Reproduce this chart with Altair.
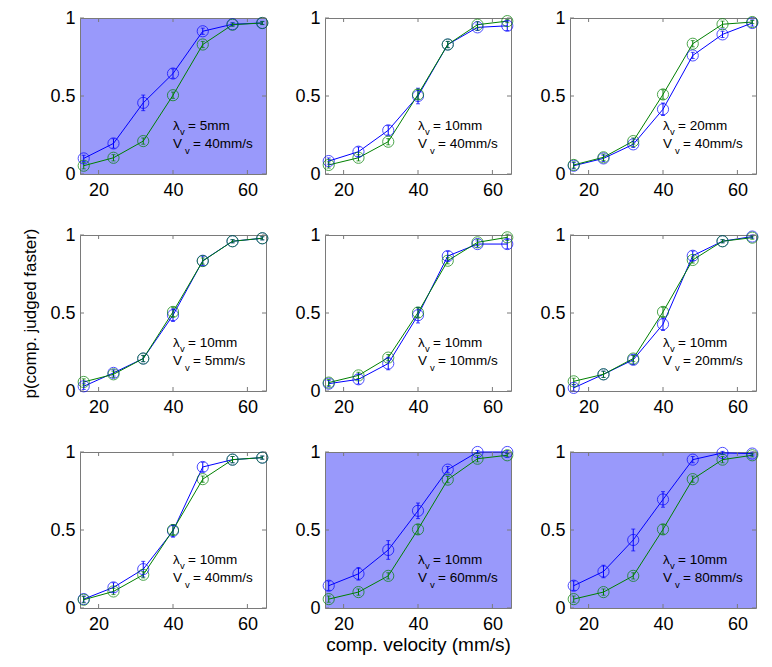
import altair as alt
import pandas as pd

velocities = [16, 24, 32, 40, 48, 56, 64]

blue_p = [
    [0.10, 0.196, 0.456, 0.644, 0.915, 0.960, 0.968],
    [0.083, 0.143, 0.280, 0.500, 0.830, 0.940, 0.950],
    [0.053, 0.100, 0.190, 0.415, 0.760, 0.895, 0.968],
    [0.030, 0.116, 0.208, 0.486, 0.835, 0.960, 0.979],
    [0.047, 0.075, 0.176, 0.486, 0.865, 0.942, 0.942],
    [0.020, 0.107, 0.200, 0.428, 0.867, 0.960, 0.990],
    [0.057, 0.132, 0.249, 0.494, 0.904, 0.951, 0.964],
    [0.143, 0.219, 0.372, 0.623, 0.887, 1.000, 1.000],
    [0.143, 0.234, 0.436, 0.696, 0.951, 0.994, 0.990],
]
blue_err = [
    [0.02, 0.03, 0.05, 0.03, 0.02, 0.01, 0.01],
    [0.02, 0.03, 0.03, 0.05, 0.02, 0.02, 0.03],
    [0.02, 0.02, 0.02, 0.04, 0.02, 0.02, 0.02],
    [0.02, 0.02, 0.02, 0.04, 0.03, 0.01, 0.01],
    [0.02, 0.03, 0.04, 0.05, 0.03, 0.02, 0.03],
    [0.02, 0.02, 0.03, 0.04, 0.03, 0.01, 0.01],
    [0.02, 0.03, 0.05, 0.04, 0.03, 0.02, 0.01],
    [0.03, 0.04, 0.06, 0.05, 0.02, 0.01, 0.01],
    [0.03, 0.04, 0.07, 0.05, 0.02, 0.01, 0.01],
]
green_p = [
    [0.053, 0.104, 0.211, 0.505, 0.830, 0.957, 0.968],
    [0.058, 0.104, 0.207, 0.510, 0.830, 0.957, 0.980],
    [0.058, 0.107, 0.211, 0.510, 0.835, 0.960, 0.974],
    [0.058, 0.107, 0.208, 0.507, 0.833, 0.960, 0.979],
    [0.054, 0.100, 0.214, 0.503, 0.835, 0.953, 0.985],
    [0.062, 0.107, 0.208, 0.507, 0.840, 0.960, 0.983],
    [0.053, 0.106, 0.213, 0.500, 0.826, 0.951, 0.964],
    [0.057, 0.102, 0.206, 0.504, 0.823, 0.957, 0.979],
    [0.057, 0.102, 0.206, 0.504, 0.826, 0.951, 0.979],
]
green_err = [
    [0.02, 0.02, 0.02, 0.02, 0.02, 0.01, 0.01],
    [0.02, 0.02, 0.02, 0.03, 0.02, 0.02, 0.01],
    [0.02, 0.02, 0.02, 0.03, 0.02, 0.02, 0.01],
    [0.02, 0.02, 0.02, 0.03, 0.02, 0.01, 0.01],
    [0.02, 0.02, 0.02, 0.03, 0.02, 0.02, 0.02],
    [0.02, 0.02, 0.02, 0.03, 0.02, 0.01, 0.01],
    [0.02, 0.02, 0.02, 0.03, 0.02, 0.02, 0.01],
    [0.02, 0.02, 0.02, 0.03, 0.02, 0.02, 0.01],
    [0.02, 0.02, 0.02, 0.03, 0.02, 0.02, 0.01],
]
lambda_labels = ["5mm", "10mm", "20mm", "10mm", "10mm", "10mm", "10mm", "10mm", "10mm"]
v_labels = ["40mm/s", "40mm/s", "40mm/s", "5mm/s", "10mm/s", "20mm/s", "40mm/s", "60mm/s", "80mm/s"]
highlighted = [True, False, False, False, False, False, False, True, True]

x_ticks = [20, 40, 60]
y_ticks = [0, 0.5, 1]

W, H = 186, 156
FONT = "Liberation Sans"
BLUE = "#0000FF"
GREEN = "#008000"
FRAME = "#7a7a7a"


def make_panel(i):
    rows = []
    for name, ps, es in (("blue", blue_p[i], blue_err[i]), ("green", green_p[i], green_err[i])):
        for v, p, e in zip(velocities, ps, es):
            rows.append({"velocity": v, "p": p, "lo": p - e, "hi": p + e, "series": name})
    df = pd.DataFrame(rows)

    xaxis = alt.Axis(values=x_ticks, ticks=False, domain=False, grid=False,
                     labelFontSize=18, labelPadding=7, labelFont=FONT, labelColor="black",
                     title="comp. velocity (mm/s)" if i == 7 else None,
                     titleFontSize=19, titleFontWeight="normal", titleFont=FONT,
                     titlePadding=2, titleColor="black")
    yaxis = alt.Axis(values=y_ticks, ticks=False, domain=False, grid=False, format=".1~f",
                     labelFontSize=18, labelPadding=5, labelFont=FONT, labelColor="black",
                     title="p(comp. judged faster)" if i == 3 else None,
                     titleFontSize=17, titleFontWeight="normal", titleFont=FONT,
                     titlePadding=10, titleColor="black")
    xs = alt.Scale(domain=[15, 65], nice=False, zero=False)
    ys = alt.Scale(domain=[0, 1], nice=False, zero=False)
    X = alt.X("velocity:Q", scale=xs, axis=xaxis)
    Y = alt.Y("p:Q", scale=ys, axis=yaxis)
    col = alt.Color("series:N", scale=alt.Scale(domain=["blue", "green"], range=[BLUE, GREEN]), legend=None)

    base = alt.Chart(df)
    lines = base.mark_line(strokeWidth=1).encode(x=X, y=Y, color=col, detail="series:N")
    bars = base.mark_rule(strokeWidth=1).encode(x=X, y=alt.Y("lo:Q", scale=ys, axis=yaxis), y2="hi:Q", color=col)
    cap_lo = base.mark_tick(orient="horizontal", size=4, thickness=1).encode(
        x=X, y=alt.Y("lo:Q", scale=ys, axis=yaxis), color=col)
    cap_hi = base.mark_tick(orient="horizontal", size=4, thickness=1).encode(
        x=X, y=alt.Y("hi:Q", scale=ys, axis=yaxis), color=col)
    pts = base.mark_point(shape="circle", filled=False, size=125, strokeWidth=1).encode(
        x=X, y=Y, color=col)

    xt = alt.Chart(pd.DataFrame({"velocity": x_ticks}))
    yt = alt.Chart(pd.DataFrame({"p": y_ticks}))
    tk_b = xt.mark_rule(color=FRAME, strokeWidth=1).encode(x=X, y=alt.value(H), y2=alt.value(H - 4))
    tk_t = xt.mark_rule(color=FRAME, strokeWidth=1).encode(x=X, y=alt.value(0), y2=alt.value(4))
    tk_l = yt.mark_rule(color=FRAME, strokeWidth=1).encode(y=Y, x=alt.value(0), x2=alt.value(4))
    tk_r = yt.mark_rule(color=FRAME, strokeWidth=1).encode(y=Y, x=alt.value(W - 4), x2=alt.value(W))

    ann = alt.Chart(pd.DataFrame({"lam": [lambda_labels[i]], "vel": [v_labels[i]]}))
    t_kw = dict(font=FONT, fontSize=13.5, align="left", baseline="alphabetic", color="black")
    s_kw = dict(font=FONT, fontSize=9.5, align="left", baseline="alphabetic", color="black")
    t1 = ann.mark_text(**t_kw).encode(x=alt.value(93), y=alt.value(112), text=alt.value("λ"))
    s1 = ann.mark_text(**s_kw).encode(x=alt.value(100), y=alt.value(117), text=alt.value("v"))
    e1 = ann.transform_calculate(t="'= ' + datum.lam").mark_text(**t_kw).encode(
        x=alt.value(108), y=alt.value(112), text="t:N")
    t2 = ann.mark_text(**t_kw).encode(x=alt.value(93), y=alt.value(130), text=alt.value("V"))
    s2 = ann.mark_text(**s_kw).encode(x=alt.value(105), y=alt.value(136), text=alt.value("v"))
    e2 = ann.transform_calculate(t="'= ' + datum.vel").mark_text(**t_kw).encode(
        x=alt.value(113), y=alt.value(130), text="t:N")

    layers = [lines, bars, cap_lo, cap_hi, pts, tk_b, tk_t, tk_l, tk_r, t1, s1, e1, t2, s2, e2]
    view = alt.ViewBackground(fill="#9999FB" if highlighted[i] else "white", stroke=FRAME, strokeWidth=1)
    return alt.layer(*layers).properties(width=W, height=H, view=view)


panels = [make_panel(i) for i in range(9)]
chart = alt.concat(*panels, columns=3, spacing={"row": 61, "column": 59}, bounds="flush").properties(
    padding={"left": 13, "top": 0, "right": 0, "bottom": 0}
).configure(background="white")

chart.save("out.html", embed_options={"renderer": "svg", "actions": False})
